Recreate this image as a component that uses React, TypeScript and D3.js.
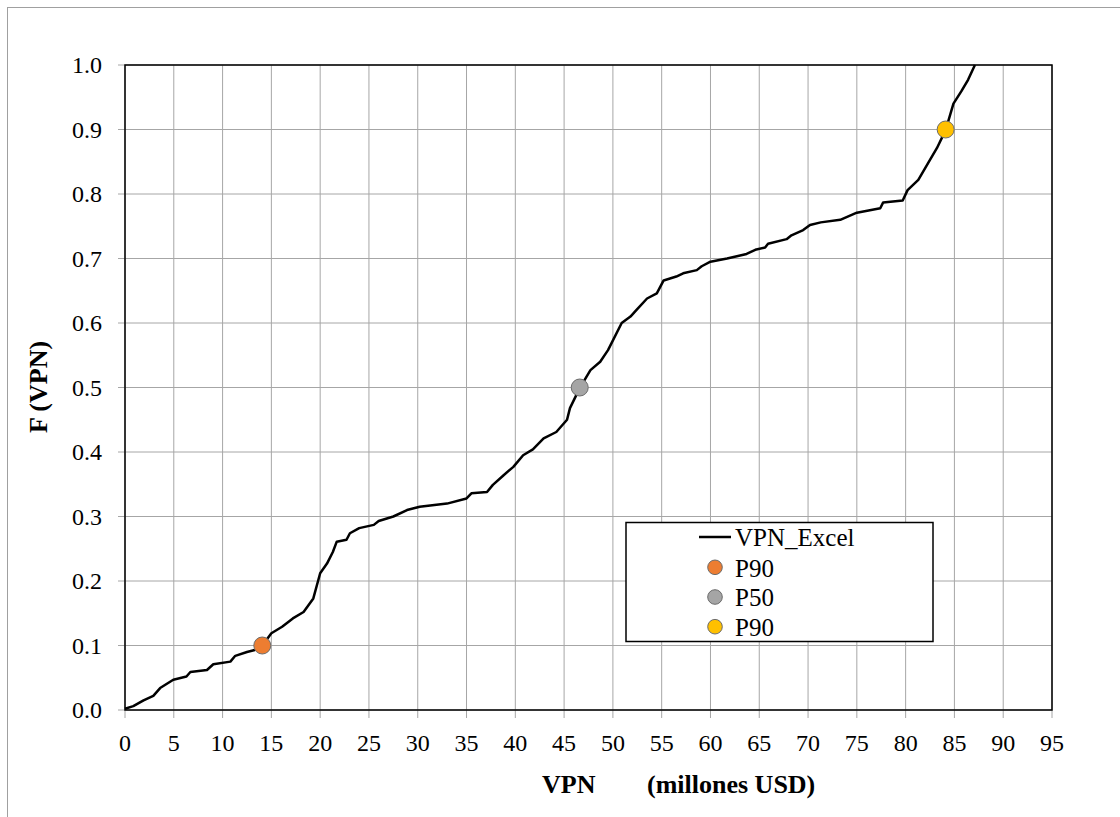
import React from "react";
import * as d3 from "d3";

const vpnValues = [0, 0.85, 1.9, 2.9, 3.6, 4.95, 6.3, 6.7, 8.4, 9.05, 10.8, 11.3, 12.5, 13.3, 14.07, 15.0, 16.1, 17.2, 18.3, 19.3, 20.0, 20.7, 21.3, 21.7, 22.7, 23.05, 24.0, 25.5, 26.0, 27.5, 28.9, 30.2, 33.0, 35.0, 35.5, 37.1, 37.7, 38.8, 39.8, 40.8, 41.8, 42.9, 44.2, 45.3, 45.6, 46.6, 47.7, 48.7, 49.5, 50.9, 51.8, 52.4, 53.5, 54.5, 55.2, 56.5, 57.2, 58.6, 59.1, 60.0, 61.7, 63.7, 64.7, 65.6, 65.9, 67.8, 68.3, 69.5, 70.2, 71.3, 73.3, 75.0, 77.4, 77.7, 79.7, 80.2, 81.3, 82.3, 83.2, 84.1, 84.9, 85.7, 86.4, 87.1];
const fValues = [0.002, 0.006, 0.015, 0.022, 0.034, 0.047, 0.052, 0.059, 0.062, 0.071, 0.075, 0.084, 0.09, 0.093, 0.1, 0.119, 0.129, 0.142, 0.152, 0.173, 0.212, 0.227, 0.245, 0.261, 0.264, 0.274, 0.282, 0.287, 0.293, 0.3, 0.31, 0.315, 0.32, 0.328, 0.336, 0.338, 0.349, 0.364, 0.377, 0.395, 0.404, 0.421, 0.431, 0.45, 0.468, 0.499, 0.527, 0.54, 0.558, 0.6, 0.61, 0.62, 0.638, 0.646, 0.666, 0.672, 0.677, 0.682, 0.688, 0.695, 0.7, 0.707, 0.714, 0.717, 0.723, 0.73, 0.736, 0.744, 0.752, 0.756, 0.76, 0.771, 0.778, 0.787, 0.79, 0.806, 0.822, 0.848, 0.871, 0.899, 0.94, 0.959, 0.977, 1.0];

const markerNames = ["P90", "P50", "P90"];
const markerVpn = [14.07, 46.6, 84.1];
const markerF = [0.1, 0.5, 0.9];
const markerColors = ["#ED7D31", "#A5A5A5", "#FFC000"];

const xTicks = d3.range(0, 96, 5);
const yTicks = d3.range(0, 11).map((i) => i / 10);

const W = 1120;
const H = 817;
const left = 125;
const right = 1052;
const top = 65;
const bottom = 710;

export default function App() {
  const x = d3.scaleLinear().domain([0, 95]).range([left, right]);
  const y = d3.scaleLinear().domain([0, 1]).range([bottom, top]);
  const pts = vpnValues.map((v, i) => [v, fValues[i]] as [number, number]);
  const line = d3
    .line<[number, number]>()
    .x((d) => x(d[0]))
    .y((d) => y(d[1]));
  const font = "'Liberation Serif', 'Times New Roman', serif";
  const gridColor = "#a6a6a6";
  return (
    <svg
      width={W}
      height={H}
      style={{ position: "absolute", left: 0, top: 0, display: "block", background: "#fff" }}
      fontFamily={font}
    >
      <rect x={7.5} y={7.5} width={1120} height={820} fill="#fff" stroke="#a0a0a0" strokeWidth={1} />
      {/* gridlines */}
      {xTicks.map((t) => (
        <line key={"gx" + t} x1={x(t)} x2={x(t)} y1={top} y2={bottom + 8} stroke={gridColor} strokeWidth={1} />
      ))}
      {yTicks.map((t) => (
        <line key={"gy" + t} x1={left - 7} x2={right} y1={y(t)} y2={y(t)} stroke={gridColor} strokeWidth={1} />
      ))}
      {/* frame */}
      <rect x={left} y={top} width={right - left} height={bottom - top} fill="none" stroke="#000" strokeWidth={1.5} />
      {/* tick labels */}
      {xTicks.map((t) => (
        <text key={"tx" + t} x={x(t)} y={751} textAnchor="middle" fontSize={24} fill="#000">
          {t}
        </text>
      ))}
      {yTicks.map((t) => (
        <text key={"ty" + t} x={102} y={y(t)} dy="0.35em" textAnchor="end" fontSize={24} fill="#000">
          {t.toFixed(1)}
        </text>
      ))}
      {/* axis titles */}
      <text x={542} y={793} fontSize={26} fontWeight="bold" fill="#000">VPN</text>
      <text x={647} y={793} fontSize={26} fontWeight="bold" fill="#000">(millones USD)</text>
      <text transform="translate(47,387) rotate(-90)" textAnchor="middle" fontSize={26} fontWeight="bold" fill="#000">
        F (VPN)
      </text>
      {/* curve */}
      <path d={line(pts) || ""} fill="none" stroke="#000" strokeWidth={2.5} strokeLinejoin="round" />
      {/* markers */}
      {markerVpn.map((v, i) => (
        <circle key={"m" + i} cx={x(v)} cy={y(markerF[i])} r={8.5} fill={markerColors[i]} stroke="#6b6b6b" strokeWidth={1} />
      ))}
      {/* legend */}
      <rect x={626} y={522.5} width={307} height={119} fill="#fff" stroke="#000" strokeWidth={1.5} />
      <line x1={699} x2={731} y1={537} y2={537} stroke="#000" strokeWidth={2.5} />
      <text x={735} y={546} fontSize={25} fill="#000">VPN_Excel</text>
      {markerNames.map((n, i) => (
        <g key={"lg" + i}>
          <circle cx={715} cy={567.3 + i * 29.7} r={7.3} fill={markerColors[i]} stroke="#6b6b6b" strokeWidth={1} />
          <text x={735} y={576.5 + i * 29.7} fontSize={25} fill="#000">{n}</text>
        </g>
      ))}
    </svg>
  );
}
